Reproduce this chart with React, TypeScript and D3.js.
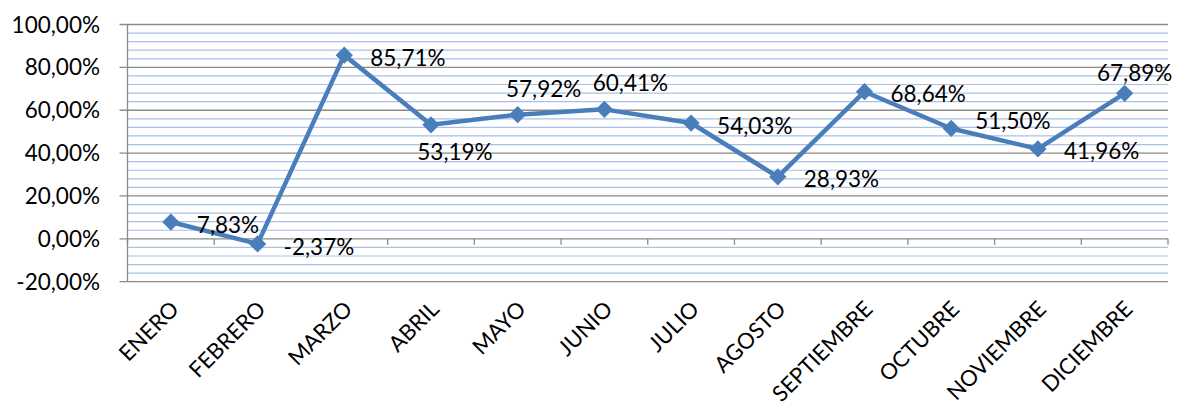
import React from "react";
import * as d3 from "d3";

const months = ["ENERO", "FEBRERO", "MARZO", "ABRIL", "MAYO", "JUNIO", "JULIO", "AGOSTO", "SEPTIEMBRE", "OCTUBRE", "NOVIEMBRE", "DICIEMBRE"];
const values = [7.83, -2.37, 85.71, 53.19, 57.92, 60.41, 54.03, 28.93, 68.64, 51.5, 41.96, 67.89];
const labelPlacement = ["right", "right", "right", "below", "above", "above", "right", "right", "right", "upright", "right", "top"];
const yTicks = [-20, 0, 20, 40, 60, 80, 100];
const minorTicks = d3.range(-20, 100.001, 4).filter((v) => Math.abs(v % 20) > 0.001);

const W = 1183;
const H = 410;
const left = 127.5;
const right = 1168;
const FONT = "Lato, 'Open Sans', sans-serif";
const FS = 22.5;
const XFS = 22;
const LINE = "#4A7EBB";

const fmt = (v: number) => v.toFixed(2).replace(".", ",") + "%";

export default function App() {
  const x = d3.scaleBand<string>().domain(months).range([left, right]).padding(0);
  const y = d3.scaleLinear().domain([-20, 100]).range([281.7, 24.5]);
  const cx = (m: string) => (x(m) as number) + x.bandwidth() / 2;
  const line = d3
    .line<number>()
    .x((_, i) => cx(months[i]))
    .y((v) => y(v));
  const diamond = d3.symbol().type(d3.symbolDiamond2).size(190)();
  const capHalf = FS * 0.36;

  const labelProps = (i: number) => {
    const px = cx(months[i]);
    const py = y(values[i]);
    const p = labelPlacement[i];
    if (p === "right") return { x: px + 26, y: py + 2.5 + capHalf, anchor: "start" };
    if (p === "upright") return { x: px + 24, y: py - 7.5 + capHalf, anchor: "start" };
    if (p === "below") return { x: px + 24, y: py + 27 + capHalf, anchor: "middle" };
    if (p === "above") return { x: px + 26, y: py - 26 + capHalf, anchor: "middle" };
    return { x: px + 10, y: py - 20 + capHalf, anchor: "middle" };
  };

  const boundaries = d3.range(months.length + 1).map((i) => left + i * x.bandwidth());

  return (
    <svg width={W} height={H} style={{ position: "absolute", left: 0, top: 0, background: "#fff" }} fontFamily={FONT}>
      {minorTicks.map((t) => (
        <line key={"m" + t} x1={left} x2={right} y1={y(t)} y2={y(t)} stroke="#a9c1e9" strokeWidth={1.2} />
      ))}
      {yTicks.map((t) => (
        <line key={"g" + t} x1={left - 8} x2={right} y1={y(t)} y2={y(t)} stroke="#8a8a8a" strokeWidth={1.3} />
      ))}
      <line x1={left} x2={left} y1={y(100)} y2={y(-20)} stroke="#8a8a8a" strokeWidth={1.3} />
      {boundaries.map((b, i) => (
        <line key={"xt" + i} x1={b} x2={b} y1={y(0)} y2={y(0) + 6} stroke="#8a8a8a" strokeWidth={1.3} />
      ))}
      {yTicks.map((t) => (
        <text key={"yl" + t} x={100} y={y(t) + capHalf} textAnchor="end" fontSize={FS} fill="#000">
          {fmt(t)}
        </text>
      ))}
      {months.map((m) => (
        <text
          key={"xl" + m}
          transform={`translate(${cx(m) + 4},${305}) rotate(-45)`}
          textAnchor="end"
          dy="0.35em"
          fontSize={XFS}
          fill="#000"
        >
          {m}
        </text>
      ))}
      <path d={line(values) as string} fill="none" stroke={LINE} strokeWidth={4.5} strokeLinejoin="round" />
      {values.map((v, i) => (
        <path key={"d" + i} d={diamond as string} transform={`translate(${cx(months[i])},${y(v)})`} fill={LINE} />
      ))}
      {values.map((v, i) => {
        const lp = labelProps(i);
        return (
          <text key={"dl" + i} x={lp.x} y={lp.y} textAnchor={lp.anchor as any} fontSize={FS} fill="#000">
            {fmt(v)}
          </text>
        );
      })}
    </svg>
  );
}
